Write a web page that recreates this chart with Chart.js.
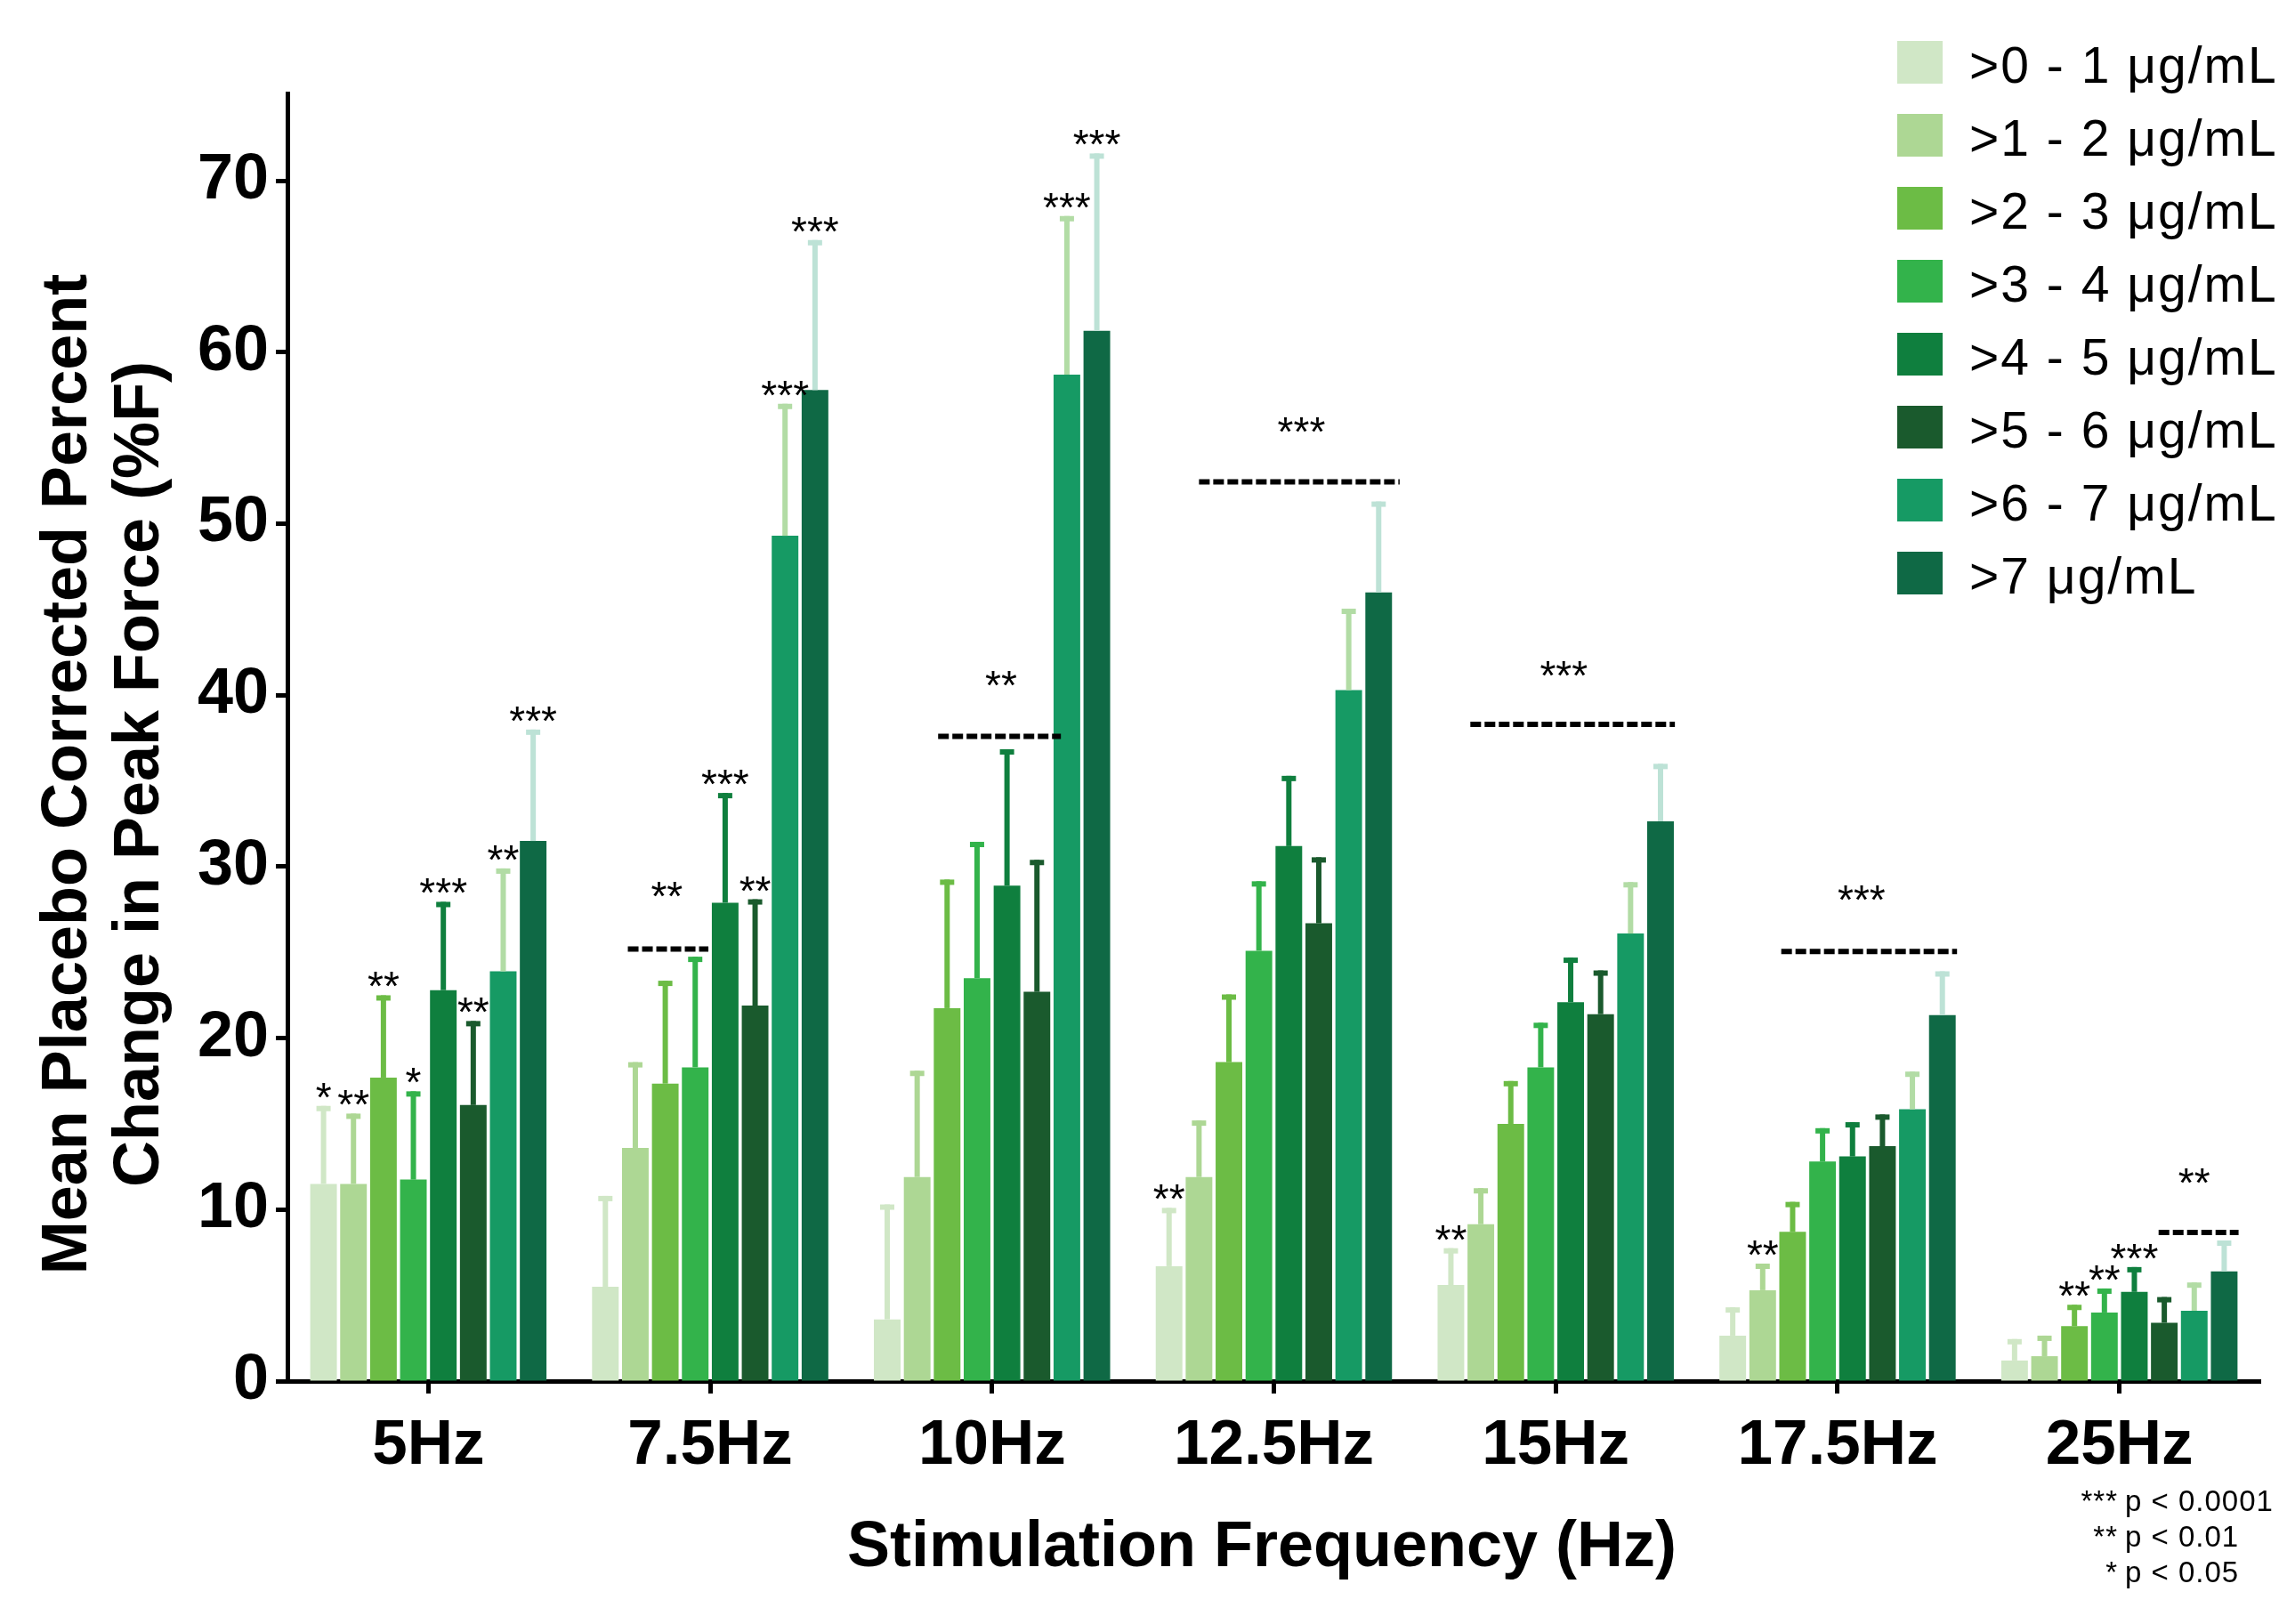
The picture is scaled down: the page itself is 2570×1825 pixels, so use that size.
<!DOCTYPE html>
<html>
<head>
<meta charset="utf-8">
<script src="https://cdn.jsdelivr.net/npm/chart.js@4.4.0/dist/chart.umd.min.js"></script>
<style>
  html, body { margin: 0; padding: 0; background: #ffffff; }
  #wrap { width: 2570px; height: 1825px; }
</style>
</head>
<body>
<div id="wrap"><canvas id="chart" width="2570" height="1825"></canvas></div>
<script>
// categories and series
const frequencies = ['5Hz', '7.5Hz', '10Hz', '12.5Hz', '15Hz', '17.5Hz', '25Hz'];
const concLabels = ['>0 - 1 μg/mL', '>1 - 2 μg/mL', '>2 - 3 μg/mL', '>3 - 4 μg/mL',
                    '>4 - 5 μg/mL', '>5 - 6 μg/mL', '>6 - 7 μg/mL', '>7 μg/mL'];
const barColors = ['#d0e7c6', '#add794', '#6cbc45', '#33b34b', '#0f7f3e', '#1a5a2d', '#169a64', '#0f6945'];
const errColors = ['#d0e7c6', '#add794', '#6cbc45', '#33b34b', '#0f7f3e', '#1a5a2d', '#b2dca5', '#bde2d6'];

// mean placebo corrected %F, one array per concentration bin
const mean0to1 = [11.5, 5.5, 3.6, 6.7, 5.6, 2.65, 1.2];
const mean1to2 = [11.5, 13.6, 11.9, 11.9, 9.15, 5.3, 1.45];
const mean2to3 = [17.7, 17.35, 21.75, 18.6, 15.0, 8.7, 3.2];
const mean3to4 = [11.75, 18.3, 23.5, 25.1, 18.3, 12.8, 4.0];
const mean4to5 = [22.8, 27.9, 28.9, 31.2, 22.1, 13.1, 5.2];
const mean5to6 = [16.1, 21.9, 22.7, 26.7, 21.4, 13.7, 3.4];
const mean6to7 = [23.9, 49.3, 58.7, 40.3, 26.1, 15.85, 4.1];
const meanOver7 = [31.5, 57.8, 61.25, 46.0, 32.65, 21.35, 6.4];

// top of the error bar (mean + error)
const err0to1 = [16.05, 10.8, 10.3, 10.1, 7.75, 4.3, 2.45];
const err1to2 = [15.6, 18.6, 18.1, 15.2, 11.25, 6.85, 2.65];
const err2to3 = [22.5, 23.35, 29.25, 22.55, 17.5, 10.45, 4.45];
const err3to4 = [16.9, 24.75, 31.45, 29.15, 20.9, 14.75, 5.4];
const err4to5 = [27.95, 34.3, 36.85, 35.3, 24.7, 15.1, 6.65];
const err5to6 = [21.0, 28.1, 30.4, 30.55, 23.95, 15.55, 4.9];
const err6to7 = [29.9, 57.0, 67.95, 45.05, 29.1, 18.05, 5.75];
const errOver7 = [38.0, 66.55, 71.6, 51.3, 36.0, 23.9, 8.2];

// significance marks above single bars
const stars0to1 = ['*', '', '', '**', '**', '', ''];
const stars1to2 = ['**', '', '', '', '', '**', ''];
const stars2to3 = ['**', '', '', '', '', '', '**'];
const stars3to4 = ['*', '', '', '', '', '', '**'];
const stars4to5 = ['***', '***', '', '', '', '', '***'];
const stars5to6 = ['**', '**', '', '', '', '', ''];
const stars6to7 = ['**', '***', '***', '', '', '', ''];
const starsOver7 = ['***', '***', '***', '', '', '', ''];

// dashed group brackets: category, span in bar slots, level and mark
const bracketCat = [1, 2, 3, 4, 5, 6];
const bracketFrom = [0.75, 1.7, 1.0, 0.65, 1.62, 4.81];
const bracketTo = [3.44, 5.8, 7.7, 7.48, 7.49, 7.48];
const bracketValue = [25.2, 37.6, 52.45, 38.3, 25.06, 8.67];
const bracketStars = ['**', '**', '***', '***', '***', '**'];
const bracketStarPos = [2.05, 3.8, 4.42, 3.77, 4.3, 6.0];
const bracketStarValue = [28.8, 41.1, 55.9, 41.7, 28.6, 12.1];

const yTicks = [0, 10, 20, 30, 40, 50, 60, 70];
const footStars = ['***', '**', '*'];
const footText = ['p < 0.0001', 'p < 0.01', 'p < 0.05'];

const FONT = '"Liberation Sans", Arial, Helvetica, sans-serif';

const means = [mean0to1, mean1to2, mean2to3, mean3to4, mean4to5, mean5to6, mean6to7, meanOver7];
const errs = [err0to1, err1to2, err2to3, err3to4, err4to5, err5to6, err6to7, errOver7];
const stars = [stars0to1, stars1to2, stars2to3, stars3to4, stars4to5, stars5to6, stars6to7, starsOver7];

const datasets = concLabels.map((label, i) => ({
  label: label,
  data: means[i],
  errTop: errs[i],
  errColor: errColors[i],
  stars: stars[i],
  backgroundColor: barColors[i],
  borderWidth: 0,
  barPercentage: 0.89,
  categoryPercentage: 0.85
}));

function slotX(chart, cat, pos) {
  const a = chart.getDatasetMeta(0).data[cat].x;
  const b = chart.getDatasetMeta(7).data[cat].x;
  return a + (b - a) * pos / 7;
}

const overlay = {
  id: 'overlay',
  afterDatasetsDraw(chart) {
    const ctx = chart.ctx;
    const ys = chart.scales.y;
    ctx.save();
    // error bars and per-bar stars
    chart.data.datasets.forEach((ds, i) => {
      const meta = chart.getDatasetMeta(i);
      meta.data.forEach((bar, j) => {
        const top = ys.getPixelForValue(ds.errTop[j]);
        ctx.fillStyle = ds.errColor;
        ctx.fillRect(bar.x - 3, top, 6, bar.y - top);
        ctx.fillRect(bar.x - 8, top, 16, 6);
        if (ds.stars[j]) {
          ctx.fillStyle = '#000';
          ctx.font = '46px ' + FONT;
          ctx.textAlign = 'center';
          ctx.textBaseline = 'alphabetic';
          ctx.fillText(ds.stars[j], bar.x, top + 6);
        }
      });
    });
    // dashed brackets
    ctx.strokeStyle = '#000';
    ctx.lineWidth = 6;
    ctx.setLineDash([12, 4]);
    bracketCat.forEach((c, k) => {
      const yy = ys.getPixelForValue(bracketValue[k]);
      ctx.beginPath();
      ctx.moveTo(slotX(chart, c, bracketFrom[k]), yy);
      ctx.lineTo(slotX(chart, c, bracketTo[k]), yy);
      ctx.stroke();
      ctx.fillStyle = '#000';
      ctx.font = '46px ' + FONT;
      ctx.textAlign = 'center';
      ctx.textBaseline = 'alphabetic';
      ctx.fillText(bracketStars[k], slotX(chart, c, bracketStarPos[k]),
                   ys.getPixelForValue(bracketStarValue[k]) + 26);
    });
    ctx.setLineDash([]);
    ctx.restore();
  },
  afterDraw(chart) {
    const ctx = chart.ctx;
    ctx.save();
    ctx.fillStyle = '#000';
    // y axis title, two lines
    ctx.font = 'bold 72px ' + FONT;
    ctx.textAlign = 'center';
    ctx.textBaseline = 'alphabetic';
    ctx.save();
    ctx.translate(97, 870);
    ctx.rotate(-Math.PI / 2);
    ctx.fillText('Mean Placebo Corrected Percent', 0, 0);
    ctx.restore();
    ctx.save();
    ctx.translate(178, 870);
    ctx.rotate(-Math.PI / 2);
    ctx.fillText('Change in Peak Force (%F)', 0, 0);
    ctx.restore();
    // x axis title
    ctx.font = 'bold 72px ' + FONT;
    ctx.fillText('Stimulation Frequency (Hz)', 1418, 1760);
    // legend
    ctx.font = '57px ' + FONT;
    ctx.textAlign = 'left';
    ctx.letterSpacing = '2px';
    concLabels.forEach((label, k) => {
      ctx.fillStyle = barColors[k];
      ctx.fillRect(2132, 46 + k * 82, 51, 48);
      ctx.fillStyle = '#000';
      ctx.fillText(label, 2213, 93 + k * 82);
    });
    // significance key
    ctx.font = '33px ' + FONT;
    ctx.letterSpacing = '1px';
    footStars.forEach((s, k) => {
      ctx.textAlign = 'right';
      ctx.fillText(s, 2380, 1698 + k * 40);
      ctx.textAlign = 'left';
      ctx.fillText(footText[k], 2388, 1698 + k * 40);
    });
    ctx.letterSpacing = '0px';
    ctx.restore();
  }
};

new Chart(document.getElementById('chart'), {
  type: 'bar',
  data: { labels: frequencies, datasets: datasets },
  options: {
    responsive: false,
    animation: false,
    devicePixelRatio: 1,
    layout: { padding: { top: 105, right: 30, left: 0, bottom: 0 } },
    plugins: {
      legend: { display: false },
      title: { display: false },
      tooltip: { enabled: false }
    },
    scales: {
      x: {
        grid: { display: true, offset: false, drawOnChartArea: false, drawTicks: true,
                tickLength: 14, tickWidth: 5, tickColor: '#000' },
        border: { display: true, color: '#000', width: 5 },
        ticks: { color: '#000', padding: 17, maxRotation: 0,
                 font: { family: FONT, size: 71, weight: 'bold' } },
        afterFit(scale) { scale.height = 273; }
      },
      y: {
        min: 0,
        max: 75.1,
        grid: { display: true, drawOnChartArea: false, drawTicks: true,
                tickLength: 13, tickWidth: 5, tickColor: '#000' },
        border: { display: true, color: '#000', width: 5 },
        ticks: { color: '#000', padding: 8, stepSize: 10, includeBounds: false,
                 font: { family: FONT, size: 72, weight: 'bold' } },
        afterBuildTicks(scale) { scale.ticks = yTicks.map(v => ({ value: v })); },
        afterFit(scale) { scale.width = 323; }
      }
    }
  },
  plugins: [overlay]
});
</script>
</body>
</html>
